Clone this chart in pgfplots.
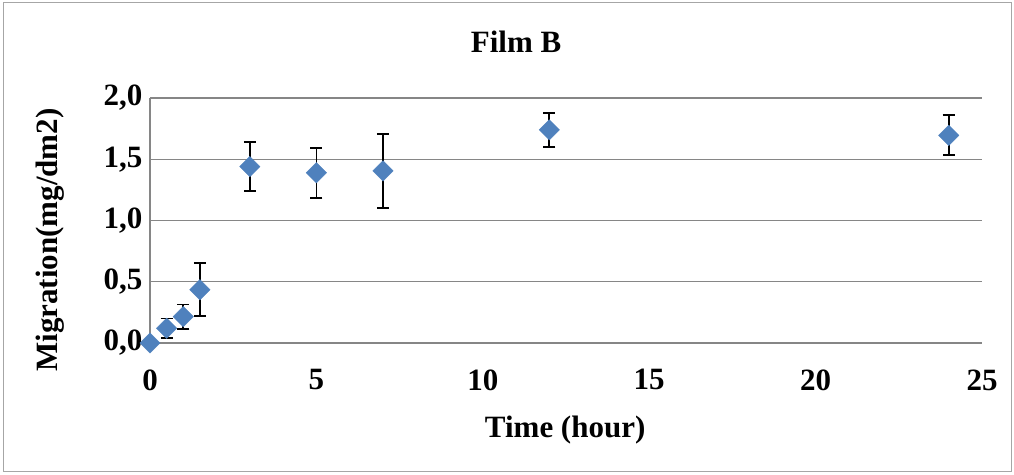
\documentclass[border=0pt]{standalone}
\usepackage{pgfplots}
\pgfplotsset{compat=1.18}
\usepackage{fontspec}
\setmainfont{Liberation Serif}
\definecolor{exblue}{HTML}{4F81BD}
\definecolor{gridgray}{HTML}{868686}
\begin{document}
\begin{tikzpicture}[x=1pt,y=1pt]
\useasboundingbox (0,0) rectangle (1014,474);
\draw[color=gray!70, line width=1pt] (3,3) rectangle (1011,471);
\begin{axis}[
  at={(150pt,131pt)}, anchor=origin,
  scale only axis, width=832pt, height=245pt,
  xmin=0, xmax=25, ymin=0, ymax=2,
  xtick={0,5,10,15,20,25}, ytick={0,0.5,1,1.5,2},
  axis lines=left, axis line style={draw=gridgray, line width=1.3pt, -},
  ymajorgrids=true, xmajorgrids=false,
  grid style={draw=gridgray, line width=1.3pt},
  major tick length=0pt,
  font=\fontsize{31}{35}\selectfont\bfseries,
  tick label style={font=\fontsize{31}{35}\selectfont\bfseries},
  /pgf/number format/assume math mode=true,
  yticklabel={\pgfmathprintnumber[fixed,fixed zerofill,precision=1,use comma]{\tick}},
  xticklabel style={yshift=-23pt},
  yticklabel style={xshift=-4pt},
  title={Film B},
  title style={at={(axis description cs:0.44,1.204)}, anchor=center},
  xlabel={Time (hour)},
  xlabel style={at={(axis description cs:0.499,-0.355)}, anchor=center},
  ylabel={Migration(mg/dm2)},
  ylabel style={at={(axis description cs:-0.12,0.42)}, anchor=center, rotate=0},
  clip=false,
]
\addplot[only marks, mark=square*, mark size=7.2pt,
  mark options={rotate=45, fill=exblue, draw=exblue},
  error bars/.cd, y dir=both, y explicit,
  error bar style={black, line width=1.8pt},
  error mark options={rotate=90, mark size=6pt, line width=1.8pt, black}]
coordinates {
  (0,0) +- (0,0)
  (0.5,0.12) +- (0,0.08)
  (1,0.215) +- (0,0.10)
  (1.5,0.435) +- (0,0.215)
  (3,1.44) +- (0,0.20)
  (5,1.39) +- (0,0.205)
  (7,1.405) +- (0,0.30)
  (12,1.74) +- (0,0.137)
  (24,1.695) +- (0,0.163)
};
\end{axis}
\end{tikzpicture}
\end{document}
